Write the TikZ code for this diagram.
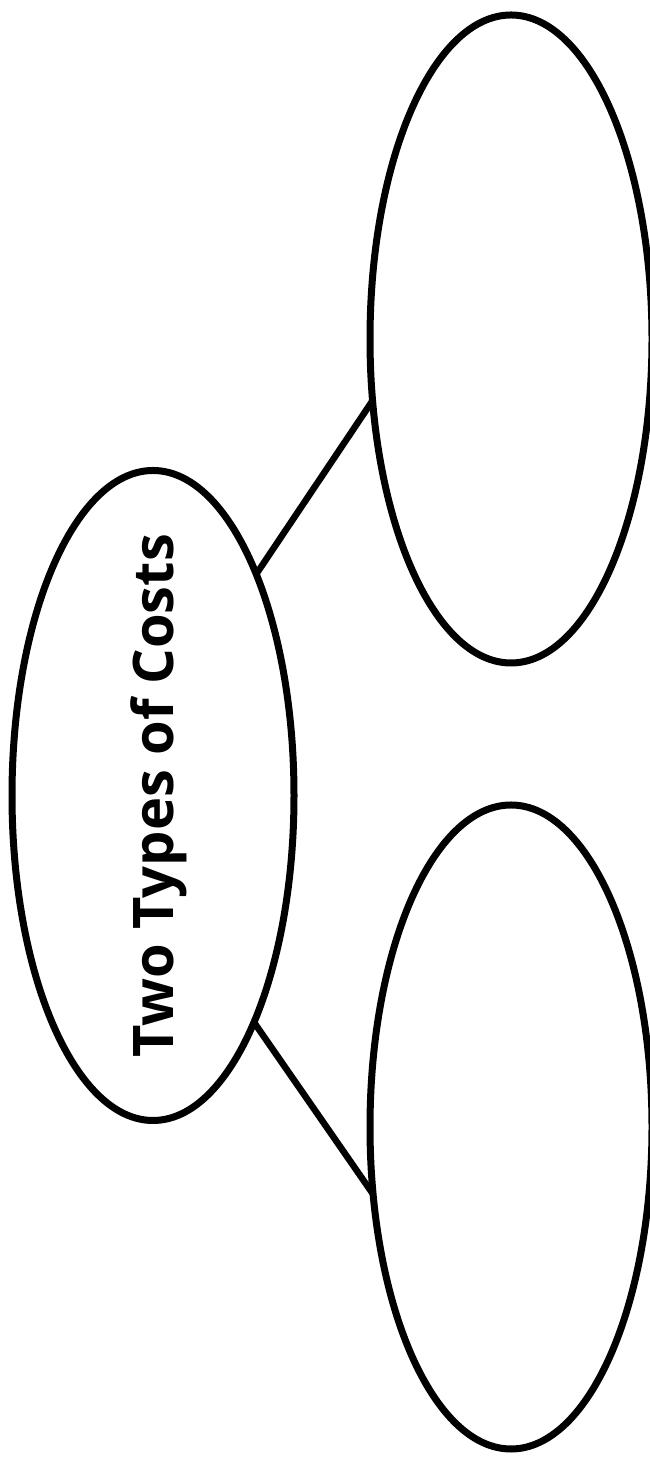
\documentclass[tikz,border=0pt]{standalone}
\usepackage{fontspec}
\setmainfont{Open Sans}
\usetikzlibrary{shapes.geometric}
\begin{document}
\begin{tikzpicture}[x=1pt,y=1pt,
  oval/.style={draw=black, line width=7pt, ellipse, inner sep=0pt, outer sep=0pt, minimum width=282pt, minimum height=650pt},
  link/.style={draw=black, line width=6.5pt}]
\useasboundingbox (0,0) rectangle (650,1461);
\node[oval] (main) at (153,665.5) {};
\node[rotate=90, font=\fontsize{56}{64}\selectfont\bfseries] (title) at (159,665) {Two Types of Costs};
\node[oval, minimum height=648pt] (top) at (511,1122) {};
\node[oval, minimum height=644pt] (bot) at (511,334) {};
\draw[link] (main.65.7) -- (top.204.3);
\draw[link] (main.-66.5) -- (bot.206.7);
\end{tikzpicture}
\end{document}
